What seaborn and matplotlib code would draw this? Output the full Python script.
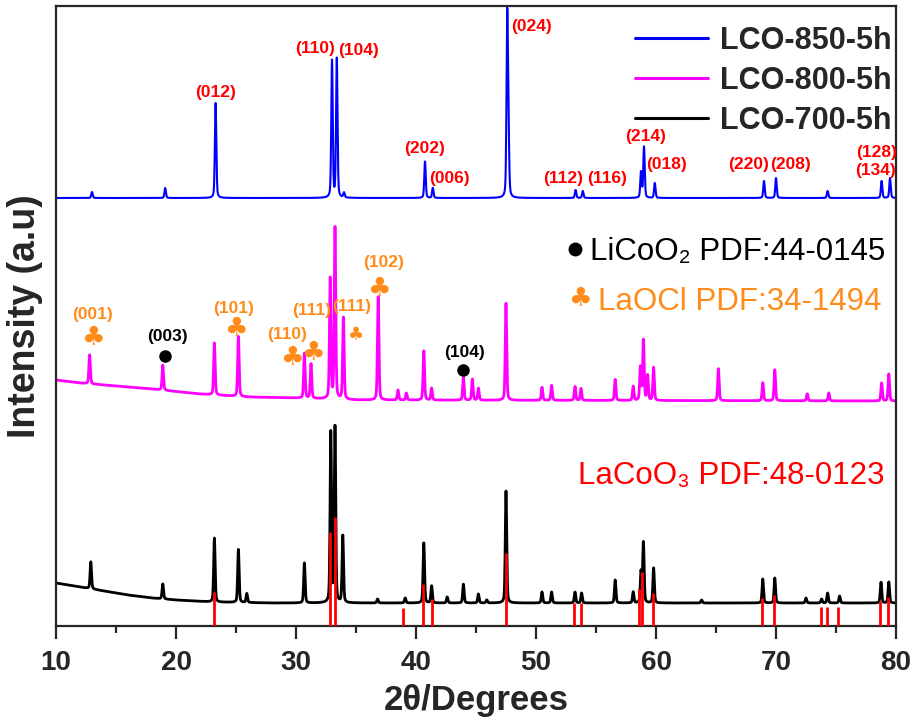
import numpy as np
import pandas as pd
import matplotlib
matplotlib.use("Agg")
import matplotlib.pyplot as plt
import seaborn as sns

# ---------------- data ----------------
# 2theta grid of the scans
two_theta = np.round(np.arange(10.0, 80.0001, 0.02), 3)

# LCO-850-5h : reflection positions (deg) and heights above background (a.u.)
lco850_pos = [13.0, 19.1, 23.3, 33.0, 33.4, 34.0, 40.75, 41.4, 47.6, 47.7,
              53.3, 53.9, 58.75, 59.0, 59.9, 69.0, 70.0, 74.3, 78.8, 79.5]
lco850_int = [6, 10, 95, 137, 139, 5, 37, 10, 174, 60,
              8, 7, 26, 51, 15, 17, 20, 7, 17, 20]
lco850_bg_x = [10, 80]
lco850_bg_y = [428, 428]

# LCO-800-5h
lco800_pos = [12.8, 18.9, 23.2, 25.2, 30.7, 31.25, 32.85, 33.25, 33.95, 36.85,
              38.5, 39.2, 40.65, 41.3, 43.95, 44.7, 45.2, 47.5, 50.5, 51.3,
              53.25, 53.75, 56.6, 58.1, 58.7, 58.95, 59.3, 59.8, 65.2, 68.9,
              69.9, 72.6, 74.4, 78.8, 79.4]
lco800_int = [29, 25, 52, 60, 45, 35, 122, 174, 83, 105,
              10, 7, 50, 12, 23, 21, 12, 97, 13, 15,
              14, 12, 21, 14, 33, 61, 25, 33, 32, 18,
              31, 7, 8, 18, 27]
lco800_bg_x = [10, 12, 15, 18, 22, 26, 30, 35, 80]
lco800_bg_y = [246, 243, 240, 237, 232, 229, 228, 226, 225]

# LCO-700-5h
lco700_pos = [12.9, 18.9, 23.2, 25.2, 25.9, 30.7, 32.9, 33.25, 33.9, 36.8,
              39.1, 40.65, 41.3, 42.6, 43.95, 45.2, 45.9, 47.5, 50.5, 51.3,
              53.25, 53.8, 56.6, 58.1, 58.75, 58.95, 59.8, 63.8, 68.9, 69.9,
              72.5, 73.8, 74.3, 75.3, 78.75, 79.4]
lco700_int = [27, 15, 64, 53, 9, 40, 170, 178, 67, 4,
              5, 61, 17, 6, 19, 9, 3, 112, 11, 11,
              11, 10, 23, 11, 31, 61, 35, 3, 24, 25,
              5, 4, 10, 7, 21, 21]
lco700_bg_x = [10, 12, 14, 16, 18, 20, 23, 28, 80]
lco700_bg_y = [43, 39, 35, 31, 28, 26, 24, 23, 23]

# LaCoO3 reference pattern, PDF 48-0123
lacoo3_pos = [23.2, 32.85, 33.25, 38.9, 40.6, 41.3, 47.5, 53.2, 53.75, 58.6,
              58.85, 59.75, 68.85, 69.8, 73.75, 74.25, 75.2, 78.7, 79.35]
lacoo3_int = [34, 94, 109, 18, 42, 27, 73, 23, 23, 37,
              54, 33, 28, 31, 19, 19, 19, 25, 29]

series_names = ["LCO-850-5h", "LCO-800-5h", "LCO-700-5h"]
series_colors = ["#0000FF", "#FF00FF", "#000000"]

# hkl labels of LiCoO2 reflections on the 850 scan
hkl_850 = ["(012)", "(110)", "(104)", "(202)", "(006)", "(024)", "(112)",
           "(116)", "(214)", "(018)", "(220)", "(208)", "(128)", "(134)"]
# LaOCl reflections (club) and LiCoO2 reflections (dot) on the 800 scan
hkl_laocl = ["(001)", "(101)", "(110)", "(111)", "(111)", "(102)"]
hkl_licoo2 = ["(003)", "(104)"]


def pattern(pos, inten, bg_x, bg_y, fwhm=0.14, eta=0.35):
    """Pseudo-Voigt peaks on a background line."""
    x = two_theta[:, None]
    c = np.asarray(pos)[None, :]
    h = np.asarray(inten, dtype=float)[None, :]
    s = fwhm / 2.3548
    g = np.exp(-0.5 * ((x - c) / s) ** 2)
    lor = 1.0 / (1.0 + ((x - c) / (fwhm / 2)) ** 2)
    y = (h * (eta * lor + (1 - eta) * g)).sum(axis=1)
    return np.interp(two_theta, bg_x, bg_y) + y


frames = []
for name, pos, inten, bx, by in [
        (series_names[0], lco850_pos, lco850_int, lco850_bg_x, lco850_bg_y),
        (series_names[1], lco800_pos, lco800_int, lco800_bg_x, lco800_bg_y),
        (series_names[2], lco700_pos, lco700_int, lco700_bg_x, lco700_bg_y)]:
    frames.append(pd.DataFrame({"2theta": two_theta,
                                "intensity": pattern(pos, inten, bx, by),
                                "sample": name}))
xrd = pd.concat(frames, ignore_index=True)

# ---------------- style ----------------
sns.set_style("ticks")
plt.rcParams["font.family"] = ["Liberation Sans", "DejaVu Sans"]
plt.rcParams["axes.linewidth"] = 1.6

fig = plt.figure(figsize=(9.14, 7.24), dpi=100)
ax = fig.add_axes([56 / 914, 1 - 626 / 724, 840 / 914, 620 / 724])

widths = {"LCO-850-5h": 1.5, "LCO-800-5h": 2.0, "LCO-700-5h": 2.0}
for name, color in zip(series_names, series_colors):
    sns.lineplot(data=xrd[xrd["sample"] == name], x="2theta", y="intensity",
                 color=color, linewidth=widths[name], label=name, ax=ax,
                 estimator=None, sort=False)

# reference sticks
ax.vlines(lacoo3_pos, 0, lacoo3_int, colors="#FF0000", linewidth=2.0, zorder=5)

ax.set_xlim(10, 80)
ax.set_ylim(0, 620)
ax.set_yticks([])
ax.set_xticks(np.arange(10, 81, 10))
ax.set_xticks(np.arange(15, 80, 10), minor=True)
ax.tick_params(axis="x", which="major", direction="out", length=9, width=1.6,
               pad=8, labelsize=20)
ax.tick_params(axis="x", which="minor", direction="out", length=5, width=1.6)
for lab in ax.get_xticklabels():
    lab.set_fontweight("bold")
for sp in ax.spines.values():
    sp.set_visible(True)
    sp.set_linewidth(1.6)

ax.set_xlabel("2θ/Degrees", fontsize=25, fontweight="bold", labelpad=6)
ax.set_ylabel("Intensity (a.u)", fontsize=27, fontweight="bold", labelpad=9)

leg = ax.legend(loc="upper right", bbox_to_anchor=(892 / 914, 1 - 26 / 724),
                bbox_transform=fig.transFigure, frameon=False,
                prop={"size": 22, "weight": "bold"}, handlelength=2.4,
                handletextpad=0.4, labelspacing=0.33, borderpad=0,
                borderaxespad=0)
for ln in leg.get_lines():
    ln.set_linewidth(2.2)

# ---------------- annotations ----------------
red = "#FF0000"
orange = "#FF8C1A"

hkl_850_xy = [(23.33, 533), (31.6, 577), (35.2, 576), (40.75, 478),
              (42.75, 447), (49.6, 599), (52.3, 447), (55.9, 447),
              (59.1, 489), (60.9, 461), (67.75, 461), (71.2, 461),
              (78.4, 474), (78.25, 455)]
for t, (x, y) in zip(hkl_850, hkl_850_xy):
    ax.text(x, y, t, color=red, fontsize=12.5, fontweight="bold",
            ha="center", va="center")

laocl_label_xy = [(13.08, 312), (24.83, 318), (29.25, 292), (31.33, 316),
                  (34.67, 320), (37.33, 363)]
laocl_club_xy = [(13.08, 289), (25.0, 298), (29.67, 269), (31.42, 274),
                 (35.0, 291), (36.92, 338)]
club_sizes = [19, 19, 19, 19, 13, 19]
for t, (x, y) in zip(hkl_laocl, laocl_label_xy):
    ax.text(x, y, t, color=orange, fontsize=12.5, fontweight="bold",
            ha="center", va="center")
for (x, y), s in zip(laocl_club_xy, club_sizes):
    ax.text(x, y, "♣", color=orange, fontsize=s, ha="center", va="center",
            family=["DejaVu Sans"])

licoo2_label_xy = [(19.25, 289), (44.08, 273)]
licoo2_dot_xy = [(19.08, 270), (43.92, 256)]
for t, (x, y) in zip(hkl_licoo2, licoo2_label_xy):
    ax.text(x, y, t, color="black", fontsize=12.5, fontweight="bold",
            ha="center", va="center")
ax.plot([p[0] for p in licoo2_dot_xy], [p[1] for p in licoo2_dot_xy],
        "o", color="black", markersize=8, linestyle="none")

# phase keys
ax.plot([53.25], [377], "o", color="black", markersize=9, linestyle="none")
ax.text(54.5, 366, "LiCoO₂ PDF:44-0145", color="black", fontsize=22.5,
        ha="left", va="baseline")
ax.text(53.67, 328, "♣", color=orange, fontsize=19, ha="center", va="center",
        family=["DejaVu Sans"])
ax.text(55.17, 316, "LaOCl PDF:34-1494", color=orange, fontsize=22.5,
        ha="left", va="baseline")
ax.text(53.5, 142, "LaCoO₃ PDF:48-0123", color=red, fontsize=22.5,
        ha="left", va="baseline")

fig.savefig("out.png", dpi=100)
